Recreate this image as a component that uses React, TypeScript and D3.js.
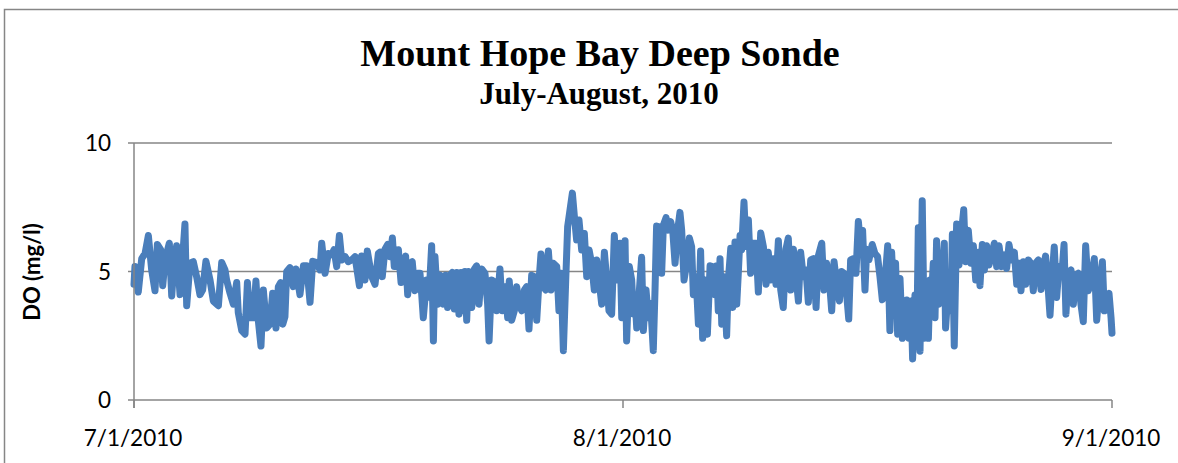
import React from "react";
import * as d3 from "d3";

type Pt = [number, number];

// [days since 7/1/2010, DO mg/l]
const july1to15: Pt[] = [[0.0,4.5],[0.06,5.19],[0.27,4.2],[0.49,5.5],[0.70,5.7],[0.91,6.4],[1.12,5.06],[1.33,4.25],[1.48,6.05],[1.69,5.85],[1.82,4.45],[1.97,5.45],[2.24,6.1],[2.39,4.05],[2.49,4.93],[2.70,6.0],[2.92,4.1],[3.23,6.85],[3.34,3.67],[3.55,5.32],[3.76,5.38],[3.97,4.8],[4.18,4.1],[4.35,4.28],[4.56,5.4],[4.82,4.67],[5.03,3.85],[5.35,3.67],[5.56,5.35],[5.77,5.06],[5.87,4.67],[6.09,4.15],[6.30,3.73],[6.51,4.57],[6.61,3.4],[6.83,2.7],[7.04,2.56],[7.19,4.57],[7.35,3.2],[7.57,3.2],[7.73,4.63],[7.88,3.1],[8.05,2.1],[8.20,4.28],[8.41,2.8],[8.62,2.95],[8.79,4.15],[9.00,2.8],[9.15,4.41],[9.30,4.57],[9.43,2.95],[9.57,3.24],[9.68,5.0],[9.89,5.15],[10.10,4.41],[10.27,5.1],[10.52,4.1],[10.74,5.22],[10.95,5.22],[11.16,3.8],[11.33,5.4],[11.58,5.35],[11.79,5.06],[11.90,6.1],[12.11,4.93],[12.32,5.7],[12.53,5.65],[12.68,5.85],[12.85,5.19],[13.02,6.4],[13.17,5.45],[13.38,5.58],[13.59,5.38],[13.80,5.45],[14.01,5.58],[14.29,4.45],[14.43,5.6],[14.64,4.67],[14.79,5.8],[14.96,5.19],[15.07,4.8],[15.28,4.5],[15.49,5.7]];

const july16to31: Pt[] = [[15.59,5.75],[15.74,4.8],[15.91,5.87],[16.08,6.05],[16.23,5.58],[16.38,6.3],[16.50,5.19],[16.65,5.19],[16.76,5.85],[16.93,4.57],[17.07,5.19],[17.22,5.6],[17.35,4.1],[17.50,5.32],[17.64,5.38],[17.81,4.25],[17.98,4.93],[18.13,4.93],[18.24,4.1],[18.34,3.2],[18.55,4.67],[18.70,4.0],[18.87,6.0],[18.98,2.3],[19.08,5.58],[19.25,3.73],[19.40,4.85],[19.61,3.73],[19.76,4.85],[19.88,3.6],[20.03,4.85],[20.18,4.96],[20.31,3.54],[20.46,4.96],[20.60,3.34],[20.73,4.96],[20.88,3.47],[20.98,5.0],[21.09,3.1],[21.20,5.0],[21.41,3.6],[21.58,5.1],[21.72,5.22],[21.87,3.73],[22.04,5.1],[22.25,4.93],[22.42,3.73],[22.51,2.3],[22.67,4.67],[22.84,4.6],[22.99,3.47],[23.20,5.1],[23.35,3.47],[23.52,4.41],[23.69,3.2],[23.79,4.63],[23.94,3.1],[24.11,3.47],[24.26,4.41],[24.41,3.73],[24.58,3.47],[24.75,4.28],[24.89,4.41],[25.04,2.76],[25.21,4.85],[25.38,4.8],[25.53,3.1],[25.68,4.67],[25.80,5.68],[25.95,4.41],[26.10,4.28],[26.27,5.8],[26.44,4.28],[26.58,5.32],[26.80,5.19],[26.94,3.47],[27.07,4.93],[27.22,1.92],[27.37,4.67],[27.49,6.74],[27.64,7.39],[27.79,8.05],[27.92,7.13],[28.06,6.23],[28.21,7.0],[28.38,5.84],[28.55,6.48],[28.70,4.8],[28.85,5.84],[29.01,5.32],[29.18,4.28],[29.33,5.45],[29.48,4.67],[29.65,3.73],[29.82,5.75],[29.97,4.67],[30.11,3.47],[30.28,3.34],[30.45,6.4],[30.60,4.67]];

const aug1to15: Pt[] = [[30.81,6.1],[30.92,3.2],[31.13,6.2],[31.23,2.3],[31.40,5.19],[31.55,4.67],[31.66,3.34],[31.76,4.02],[31.87,2.8],[32.04,4.28],[32.18,5.55],[32.29,2.7],[32.46,4.28],[32.61,3.2],[32.75,3.76],[32.92,1.92],[33.03,4.28],[33.13,6.77],[33.30,6.74],[33.45,4.93],[33.56,6.8],[33.73,7.1],[33.87,6.61],[34.02,6.94],[34.15,6.61],[34.30,5.32],[34.44,6.48],[34.61,7.3],[34.72,6.61],[34.87,4.67],[35.04,5.32],[35.21,6.3],[35.35,5.97],[35.46,4.1],[35.63,4.8],[35.78,2.95],[35.92,5.8],[36.05,2.4],[36.20,4.67],[36.35,2.56],[36.52,5.22],[36.68,5.19],[36.83,4.1],[36.94,5.22],[37.04,3.47],[37.15,5.5],[37.26,2.95],[37.40,4.8],[37.57,2.5],[37.68,4.67],[37.83,5.9],[37.95,3.6],[38.10,6.15],[38.21,3.73],[38.31,4.93],[38.42,6.4],[38.52,5.84],[38.67,7.7],[38.80,5.97],[38.95,7.0],[39.09,4.93],[39.26,6.1],[39.43,6.1],[39.58,4.2],[39.73,6.5],[39.90,5.97],[40.07,4.5],[40.21,5.75],[40.36,4.67],[40.53,5.5],[40.70,4.5],[40.85,6.2],[41.00,4.28],[41.16,3.6],[41.33,5.87],[41.48,6.3],[41.63,4.28],[41.80,5.87],[41.97,4.8],[42.12,3.85],[42.26,5.75],[42.43,4.8],[42.60,5.06],[42.75,3.8],[42.90,5.45],[43.07,5.5],[43.24,3.6],[43.38,5.6],[43.60,6.1],[43.74,4.28],[43.91,5.32],[44.08,4.67],[44.23,3.47],[44.38,5.38],[44.55,4.5],[44.72,3.85],[44.86,5.0],[45.01,4.93],[45.18,4.1],[45.31,3.15],[45.43,5.45],[45.60,5.5],[45.77,4.93],[45.92,6.95],[46.07,5.97],[46.19,6.6]];

const aug16to31: Pt[] = [[46.34,4.28],[46.45,5.87],[46.59,5.45],[46.80,6.05],[46.97,5.7],[47.14,5.58],[47.29,4.8],[47.44,3.9],[47.61,4.67],[47.78,6.0],[47.92,2.7],[48.03,5.75],[48.20,3.47],[48.28,5.32],[48.41,2.56],[48.56,4.73],[48.71,2.4],[48.83,3.2],[48.98,3.89],[49.13,2.4],[49.26,3.85],[49.36,1.6],[49.51,4.09],[49.62,2.1],[49.72,6.7],[49.83,1.9],[49.97,7.75],[50.10,2.4],[50.25,4.02],[50.36,2.4],[50.46,4.67],[50.57,4.15],[50.67,5.32],[50.78,3.2],[50.88,6.2],[51.03,3.73],[51.20,4.02],[51.37,6.1],[51.45,2.8],[51.62,4.41],[51.79,3.47],[51.88,6.45],[52.00,2.1],[52.15,6.85],[52.30,5.25],[52.47,6.6],[52.60,7.4],[52.72,5.38],[52.89,6.6],[53.06,5.32],[53.21,6.0],[53.36,4.67],[53.53,5.75],[53.63,4.45],[53.78,6.05],[53.91,5.06],[54.05,6.0],[54.20,5.25],[54.37,5.65],[54.54,6.1],[54.69,5.19],[54.84,6.0],[55.00,5.19],[55.17,5.65],[55.32,5.12],[55.47,6.05],[55.64,5.45],[55.81,5.75],[55.96,4.5],[56.10,5.32],[56.23,4.25],[56.38,5.38],[56.53,4.5],[56.70,5.45],[56.86,5.32],[57.01,4.25],[57.16,5.32],[57.33,5.45],[57.50,4.3],[57.65,5.19],[57.79,5.6],[57.96,4.28],[58.07,3.3],[58.22,4.93],[58.34,5.95],[58.49,3.99],[58.64,5.19],[58.81,4.8],[58.96,6.05],[59.08,3.34],[59.23,4.93],[59.40,5.06],[59.55,3.73],[59.70,4.86],[59.86,4.93],[60.03,3.73],[60.18,3.05],[60.33,6.0],[60.50,4.25],[60.67,4.67],[60.88,5.5],[61.03,3.1],[61.24,4.67],[61.39,5.38],[61.51,3.47],[61.66,4.02],[61.81,4.15],[61.94,3.2],[62.0,2.6]];

const yTicks = [0, 5, 10];
const xTickLabels = ["7/1/2010", "8/1/2010", "9/1/2010"];
const xTickDates = [new Date(2010, 6, 1), new Date(2010, 7, 1), new Date(2010, 8, 1)];
const title = "Mount Hope Bay Deep Sonde";
const subtitle = "July-August, 2010";
const yLabel = "DO (mg/l)";

const W = 1178, H = 463;
const left = 134, right = 1112, top = 143, bottom = 400;
const start = new Date(2010, 6, 1);
const DAY = 86400000;

export default function App() {
  const all = [...july1to15, ...july16to31, ...aug1to15, ...aug16to31];
  const x = d3.scaleTime().domain([xTickDates[0], xTickDates[2]]).range([left, right]);
  const y = d3.scaleLinear().domain([0, 10]).range([bottom, top]);
  const line = d3.line<Pt>()
    .x(d => x(new Date(start.getTime() + d[0] * DAY)))
    .y(d => y(d[1]));
  const grid = "#868686";
  const sans = "Lato, 'Open Sans', sans-serif";
  return (
    <svg width={W} height={H} style={{ position: "absolute", left: 0, top: 0, background: "#fff" }}>
      <rect x={4.5} y={9.5} width={1180} height={470} fill="#fff" stroke={grid} strokeWidth={1.5} />
      <text x={600} y={66} textAnchor="middle" fontFamily="'Liberation Serif', serif" fontWeight="bold" fontSize={38}>{title}</text>
      <text x={599} y={104} textAnchor="middle" fontFamily="'Liberation Serif', serif" fontWeight="bold" fontSize={31}>{subtitle}</text>
      {yTicks.filter(t => t > 0).map(t => (
        <line key={"g" + t} x1={left - 6} x2={right} y1={y(t)} y2={y(t)} stroke={grid} strokeWidth={1.5} />
      ))}
      <path d={line(all) || ""} fill="none" stroke="#4a7ebb" strokeWidth={7} strokeLinejoin="round" strokeLinecap="round" />
      <line x1={left} x2={left} y1={top} y2={bottom + 8} stroke={grid} strokeWidth={1.5} />
      <line x1={left - 6} x2={right} y1={bottom} y2={bottom} stroke={grid} strokeWidth={1.5} />
      {xTickDates.map((d, i) => (
        <line key={"xt" + i} x1={x(d)} x2={x(d)} y1={bottom} y2={bottom + 8} stroke={grid} strokeWidth={1.5} />
      ))}
      {yTicks.map(t => (
        <text key={"yl" + t} x={111} y={y(t) + 8} textAnchor="end" fontFamily={sans} fontSize={22.5}>{t}</text>
      ))}
      {xTickDates.map((d, i) => (
        <text key={"xl" + i} x={x(d) - 1} y={446} textAnchor="middle" fontFamily={sans} fontSize={22.5}>{xTickLabels[i]}</text>
      ))}
      <text transform={`translate(40,272) rotate(-90)`} textAnchor="middle" fontFamily={sans} fontWeight="bold" fontSize={22}>{yLabel}</text>
    </svg>
  );
}
